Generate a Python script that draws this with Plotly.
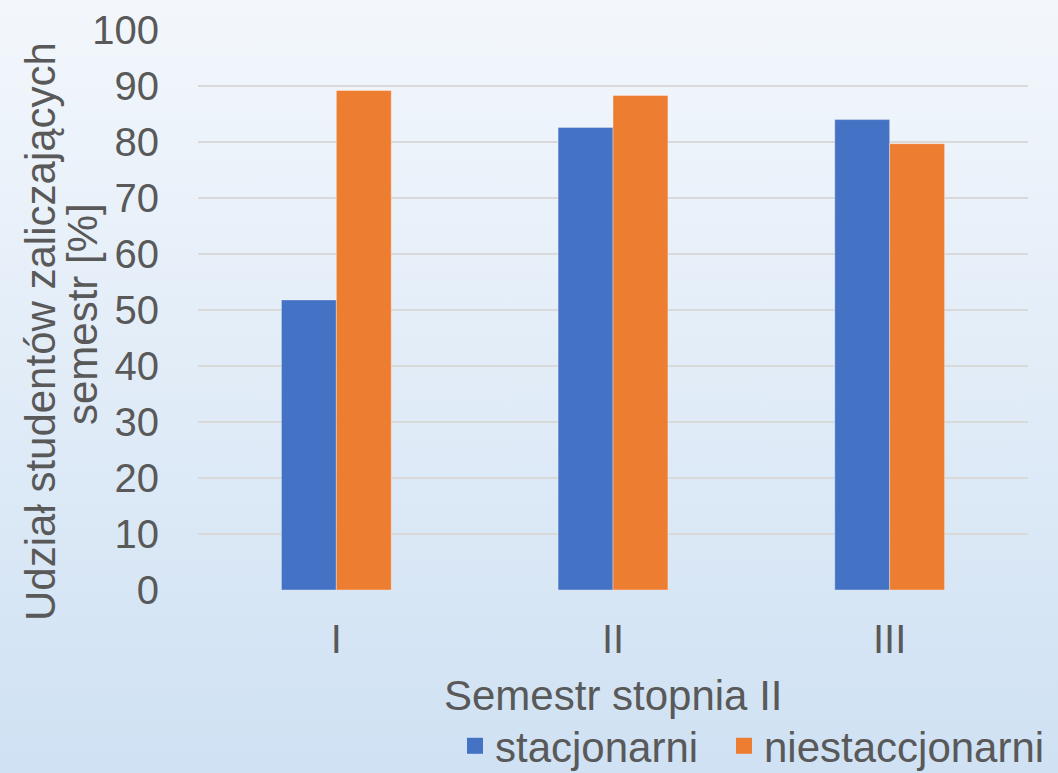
import base64
import plotly.graph_objects as go

# Semesters of the second-degree programme and pass rates per study mode
semesters = ["I", "II", "III"]
stacjonarni = [51.8, 82.6, 84.0]
niestacjonarni = [89.2, 88.3, 79.7]
y_ticks = list(range(0, 101, 10))

BLUE, ORANGE = "#4472C4", "#ED7D31"

W, H = 1058, 773
M_L, M_R, M_T, M_B = 198, 30, 30, 183
PW, PH = W - M_L - M_R, H - M_T - M_B

TEXT = "#595959"
FONT = "Liberation Sans, Arial, sans-serif"


def px_x(x):
    return (x - M_L) / PW


def px_y(y):
    return 1 - (y - M_T) / PH


# Soft vertical gradient used as the chart background
svg = (
    f'<svg xmlns="http://www.w3.org/2000/svg" width="{W}" height="{H}">'
    '<defs><linearGradient id="g" x1="0" y1="0" x2="0" y2="1">'
    '<stop offset="0" stop-color="#f3f7fc"/>'
    '<stop offset="1" stop-color="#cfe1f3"/>'
    '</linearGradient></defs>'
    f'<rect width="{W}" height="{H}" fill="url(#g)"/></svg>'
)
bg_src = "data:image/svg+xml;base64," + base64.b64encode(svg.encode()).decode()

bar_edge = dict(color="rgba(255,255,255,0.35)", width=1)

fig = go.Figure()
fig.add_trace(go.Bar(
    x=semesters, y=stacjonarni, name="stacjonarni",
    marker=dict(color=BLUE, line=bar_edge), showlegend=False,
))
fig.add_trace(go.Bar(
    x=semesters, y=niestacjonarni, name="niestaccjonarni",
    marker=dict(color=ORANGE, line=bar_edge), showlegend=False,
))
# Larger square legend keys for the two series, one legend box each
for name, color, legend_id in [("stacjonarni", BLUE, "legend"),
                               ("niestaccjonarni", ORANGE, "legend2")]:
    fig.add_trace(go.Scatter(
        x=[None], y=[None], mode="markers", name=name, legend=legend_id,
        marker=dict(symbol="square", size=18, color=color, line=dict(width=0)),
        hoverinfo="skip",
    ))

legend_style = dict(
    orientation="h", xanchor="left", y=px_y(746), yanchor="middle",
    font=dict(size=42, color=TEXT), bgcolor="rgba(0,0,0,0)", itemwidth=30,
)

fig.update_layout(
    width=W, height=H,
    margin=dict(l=M_L, r=M_R, t=M_T, b=M_B, pad=0, autoexpand=False),
    paper_bgcolor="rgba(0,0,0,0)",
    plot_bgcolor="rgba(0,0,0,0)",
    barmode="group", bargap=0.603, bargroupgap=0,
    font=dict(family=FONT, color=TEXT, size=40),
    showlegend=True,
    legend=dict(x=px_x(455), **legend_style),
    legend2=dict(x=px_x(724), **legend_style),
    images=[dict(
        source=bg_src, xref="paper", yref="paper",
        x=px_x(0), y=px_y(0), sizex=W / PW, sizey=H / PH,
        xanchor="left", yanchor="top", sizing="stretch", layer="below",
    )],
)

fig.update_xaxes(
    showgrid=False, zeroline=False, showline=False,
    ticks="outside", ticklen=14, tickcolor="rgba(0,0,0,0)",
    tickfont=dict(size=40, color=TEXT),
)
fig.update_yaxes(
    range=[0, 100], tickvals=y_ticks, showgrid=True,
    gridcolor="#d9d9d9", gridwidth=1.5, zeroline=False, showline=False,
    ticks="outside", ticklen=30, tickcolor="rgba(0,0,0,0)",
    tickfont=dict(size=40, color=TEXT),
)

# Axis titles
fig.add_annotation(
    text="Semestr stopnia II", xref="paper", yref="paper",
    x=px_x(613), y=px_y(695), xanchor="center", yanchor="middle",
    showarrow=False, font=dict(size=42, color=TEXT),
)
fig.add_annotation(
    text="Udział studentów zaliczających", xref="paper", yref="paper",
    x=px_x(40), y=px_y(332), xanchor="center", yanchor="middle",
    textangle=-90, showarrow=False, font=dict(size=42, color=TEXT),
)
fig.add_annotation(
    text="semestr [%]", xref="paper", yref="paper",
    x=px_x(82), y=px_y(314), xanchor="center", yanchor="middle",
    textangle=-90, showarrow=False, font=dict(size=42, color=TEXT),
)

fig.write_html("out.html")
